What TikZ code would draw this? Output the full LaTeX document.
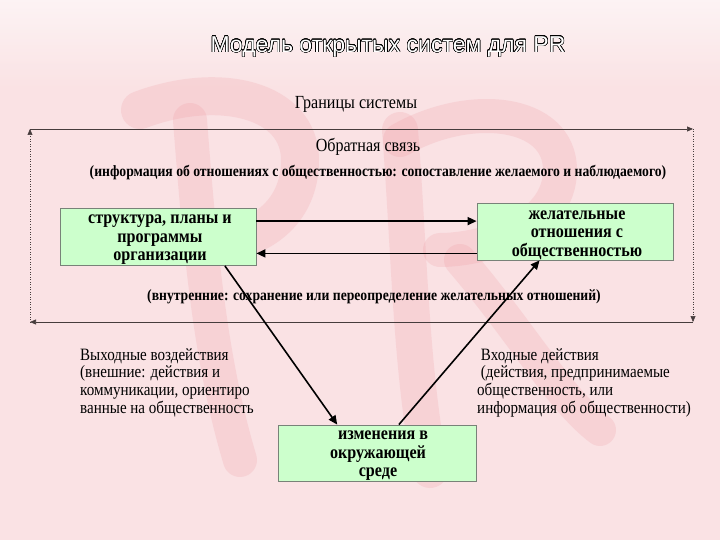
\documentclass[tikz,border=0pt]{standalone}
\usepackage{fontspec}
\setmainfont[FakeStretch=0.87]{Liberation Serif}
\newfontfamily\titlefont{Liberation Sans}
\usepackage{contour}
\contourlength{0.45pt}
\contournumber{24}
\usetikzlibrary{arrows.meta,calc}
\definecolor{bgpink}{RGB}{250,226,228}
\definecolor{wmpink}{RGB}{236,140,150}
\definecolor{boxgreen}{RGB}{204,255,204}
\definecolor{boxline}{RGB}{120,130,120}
\definecolor{frameline}{RGB}{70,60,60}
\tikzset{
  box/.style={draw=boxline, line width=0.8pt, fill=boxgreen, minimum width=196pt, minimum height=57pt, inner sep=0pt},
  boxtext/.style={inner sep=0pt, align=center, font=\fontsize{18.5}{18.5}\selectfont\bfseries},
  conn/.style={line width=1.6pt, -{Triangle[length=9pt,width=8pt]}},
  frame/.style={frameline, line width=0.7pt, -{Triangle[length=6pt,width=5pt]}},
  dotframe/.style={frameline, line width=0.5pt, dotted, -{Triangle[length=6pt,width=5pt]}},
  plain/.style={font=\fontsize{18.5}{20}\selectfont, inner sep=0pt},
  boldnote/.style={font=\fontsize{15.7}{17}\selectfont\bfseries, inner sep=0pt},
  side/.style={font=\fontsize{17.3}{17.7}\selectfont, align=left, inner sep=0pt, anchor=north west}
}
\begin{document}
\begin{tikzpicture}[x=1pt,y=-1pt]
\useasboundingbox (0,0) rectangle (720,540);
% background
\fill[bgpink] (0,0) rectangle (720,540);
\shade[top color=white, bottom color=bgpink, opacity=0.6] (0,0) rectangle (720,90);
\begin{scope}[wmpink, opacity=0.18, line cap=round, line join=round]
  % P
  \draw[line width=38pt] (140,110) .. controls (220,80) and (300,100) .. (300,160) .. controls (300,230) and (230,250) .. (200,240);
  \draw[line width=34pt] (190,120) .. controls (200,250) and (210,360) .. (240,460);
  % R
  \draw[line width=36pt] (400,130) .. controls (410,260) and (410,360) .. (430,470);
  \draw[line width=34pt] (400,140) .. controls (470,100) and (560,110) .. (560,170) .. controls (560,230) and (480,250) .. (440,250);
  \draw[line width=32pt] (460,260) .. controls (520,330) and (560,400) .. (600,430);
\end{scope}
% title
\node (title) at (388,47) {\titlefont\fontsize{23}{26}\selectfont\contour{black}{\color{white}Модель открытых систем для PR}};
% frame corners
\coordinate (tl) at (30,129);
\coordinate (tr) at (693,129);
\coordinate (br) at (693,322);
\coordinate (bl) at (30,322);
\draw[frame] (tl) -- (tr);
\draw[dotframe] (tr) -- (br);
\draw[frame] (br) -- (bl);
\draw[dotframe] (bl) -- (tl);
% labels
\node[plain] (gran) at (356,104) {Границы системы};
\node[plain] (obr) at (368,147) {Обратная связь};
\node[boldnote] (info) at (378,173) {(информация об отношениях с общественностью: сопоставление желаемого и наблюдаемого)};
\node[boldnote] (vnutr) at (374,297) {(внутренние: сохранение или переопределение желательных отношений)};
% boxes
\node[box] (b1) at (158,237) {};
\node[box] (b2) at (575,231.5) {};
\node[box, minimum width=198pt, minimum height=56pt] (b3) at (377,453) {};
\node[boxtext] (b1t) at (160,240) {структура, планы и\\программы\\организации};
\node[boxtext] (b2t) at (577,235) {желательные\\отношения с\\общественностью};
\node[boxtext] (b3t) at (378,456) {\hspace*{10pt}изменения в\\окружающей\hspace*{8pt}\\среде};
% connectors
\draw[conn] ([yshift=-13pt]b1.north east) -- ([yshift=-13pt]b1.north east -| b2.west);
\draw[conn] ([yshift=7pt]b2.south west) -- ([yshift=7pt]b2.south west -| b1.east);
\draw[conn] ($(b1.south west)!0.84!(b1.south east)$) -- ($(b3.north west)!0.3!(b3.north east)$);
\draw[conn] ($(b3.north west)!0.61!(b3.north east)$) -- ($(b2.south west)!0.32!(b2.south east)$);
% side texts
\node[side] (outl) at (80,348) {Выходные воздействия\\(внешние: действия и\\коммуникации, ориентиро\\ванные на общественность};
\node[side] (inl) at (477,348) {\ Входные действия\\\ (действия, предпринимаемые\\общественность, или\\информация об общественности)};
\end{tikzpicture}
\end{document}
